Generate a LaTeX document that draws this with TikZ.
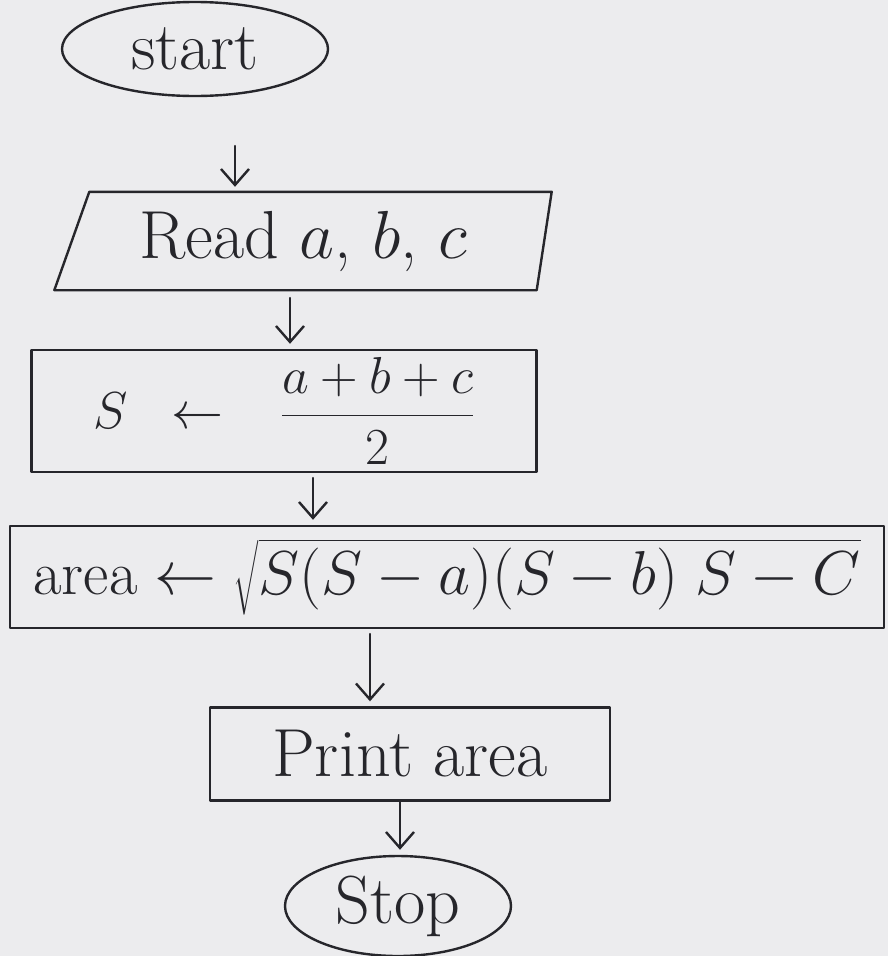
\RequirePackage{fix-cm}
\documentclass[tikz,border=0pt]{standalone}
\usepackage{amsmath}
\usetikzlibrary{arrows.meta,shapes.geometric,calc}
\definecolor{paper}{HTML}{ECECEE}
\definecolor{ink}{HTML}{26262B}
\tikzset{
  ink line/.style={draw=ink, line width=2.4pt, line join=round, line cap=round},
  terminal/.style={ellipse, ink line, inner sep=0pt, text=ink},
  procbox/.style={rectangle, ink line, inner sep=0pt, text=ink},
  iolabel/.style={rectangle, inner sep=0pt, text=ink},
  flow/.style={ink line, -{Straight Barb[length=16pt,width=28pt,line width=2.4pt]}, shorten >=5pt},
  every node/.style={font=\fontsize{60}{70}\selectfont},
  big/.style={font=\fontsize{68}{78}\selectfont}
}
\begin{document}
\begin{tikzpicture}[x=1pt,y=-1pt]
  % paper
  \fill[paper] (0,0) rectangle (888,956);
  \useasboundingbox (0,0) rectangle (888,956);

  % terminals and boxes
  \node[terminal, big, minimum width=266pt, minimum height=94pt] (start) at (195,49) {start};

  \node[iolabel, big, minimum width=497pt, minimum height=98pt] (read) at (303,241) {Read $a$, $b$, $c$};
  \draw[ink line] ($(read.north west)+(35,0)$) -- (read.north east)
        -- ($(read.south east)+(-15,0)$) -- (read.south west) -- cycle;

  \node[procbox, font=\fontsize{52}{60}\selectfont, minimum width=505pt, minimum height=122pt] (sbox) at (284,411)
        {$S \;\;\leftarrow\;\;\; \dfrac{a+b+c}{2}$\hspace{60pt}};

  \node[procbox, font=\fontsize{62}{72}\selectfont, minimum width=874pt, minimum height=102pt] (area) at (447,577)
        {$\text{area} \leftarrow \sqrt{S(S-a)(S-b)\;S-C}$};

  \node[procbox, big, minimum width=400pt, minimum height=93pt] (print) at (410,754) {Print area};

  \node[terminal, big, minimum width=226pt, minimum height=100pt] (stop) at (398,906) {Stop};

  % connectors
  \coordinate (a1) at (235,146);
  \coordinate (a2) at (290,298);
  \coordinate (a3) at (313,478);
  \coordinate (a4) at (370,634);
  \coordinate (a5) at (400,802);
  \draw[flow] (a1) -- (a1 |- read.north);
  \draw[flow] (a2) -- (a2 |- sbox.north);
  \draw[flow] (a3) -- (a3 |- area.north);
  \draw[flow] (a4) -- (a4 |- print.north);
  \draw[flow] (a5) -- (a5 |- stop.north);
\end{tikzpicture}
\end{document}
